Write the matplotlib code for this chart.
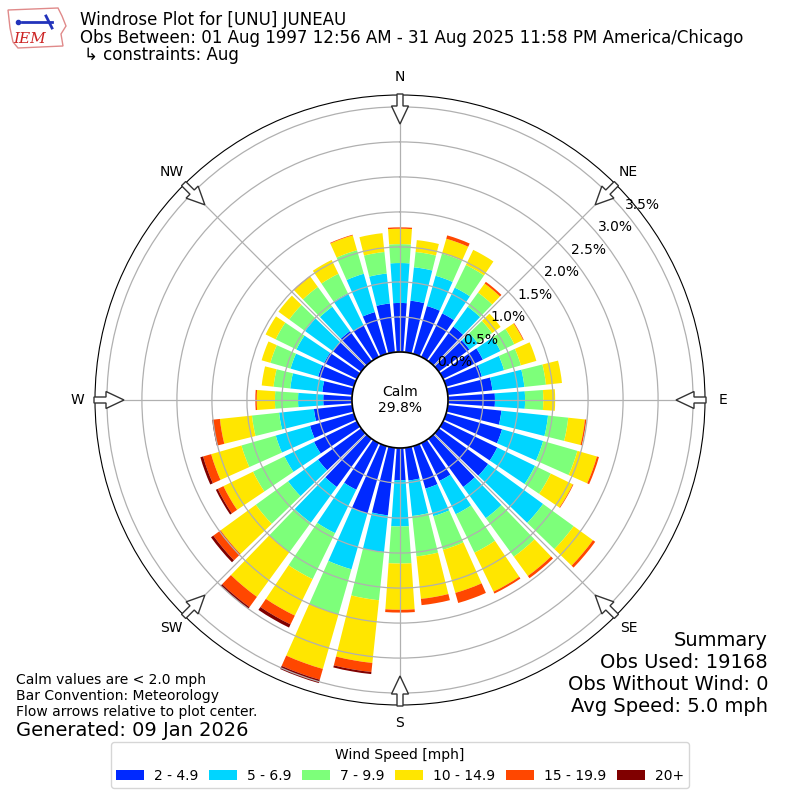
import numpy as np
import matplotlib
matplotlib.use('Agg')
import matplotlib.pyplot as plt
from matplotlib.patches import Patch, Circle, FancyArrow, Polygon

# wind direction bins (deg, meteorological convention)
directions = np.arange(0, 360, 10)
speed_labels = ['2 - 4.9', '5 - 6.9', '7 - 9.9', '10 - 14.9', '15 - 19.9', '20+']

# frequency (%) per direction for each speed bin
spd_2_5 = [0.70, 0.74, 0.71, 0.69, 0.61, 0.54, 0.63, 0.53, 0.64, 0.67, 0.77, 0.83,
           0.86, 0.87, 0.85, 0.60, 0.63, 0.47, 0.46, 0.97, 1.00, 0.74, 0.85, 0.76,
           0.68, 0.65, 0.55, 0.41, 0.43, 0.53, 0.52, 0.50, 0.53, 0.50, 0.62, 0.70]
spd_5_7 = [0.57, 0.48, 0.45, 0.41, 0.35, 0.15, 0.28, 0.33, 0.46, 0.43, 0.67, 0.61,
           0.60, 0.97, 0.55, 0.53, 0.41, 0.51, 0.66, 0.53, 0.83, 0.69, 0.63, 0.53,
           0.47, 0.51, 0.50, 0.36, 0.46, 0.41, 0.44, 0.49, 0.43, 0.51, 0.57, 0.43]
spd_7_10 = [0.27, 0.22, 0.33, 0.36, 0.25, 0.25, 0.22, 0.25, 0.31, 0.26, 0.29, 0.51,
            0.25, 0.54, 0.68, 0.61, 0.50, 0.58, 0.53, 0.69, 0.67, 0.73, 0.52, 0.57,
            0.50, 0.51, 0.39, 0.33, 0.24, 0.30, 0.33, 0.28, 0.35, 0.31, 0.35, 0.31]
spd_10_15 = [0.22, 0.17, 0.22, 0.24, 0.16, 0.15, 0.14, 0.23, 0.23, 0.17, 0.24, 0.29,
             0.35, 0.34, 0.34, 0.62, 0.64, 0.61, 0.66, 0.90, 0.81, 0.58, 0.79, 0.62,
             0.47, 0.45, 0.46, 0.26, 0.17, 0.13, 0.16, 0.19, 0.18, 0.22, 0.22, 0.27]
spd_15_20 = [0.02, 0.00, 0.05, 0.00, 0.03, 0.00, 0.01, 0.00, 0.00, 0.00, 0.02, 0.03,
             0.01, 0.04, 0.04, 0.03, 0.15, 0.09, 0.04, 0.13, 0.16, 0.14, 0.18, 0.13,
             0.09, 0.12, 0.10, 0.02, 0.00, 0.00, 0.00, 0.00, 0.01, 0.00, 0.01, 0.00]
spd_20_up = [0.00, 0.00, 0.00, 0.00, 0.00, 0.00, 0.00, 0.00, 0.00, 0.00, 0.00, 0.00,
             0.00, 0.00, 0.00, 0.00, 0.00, 0.00, 0.00, 0.03, 0.05, 0.05, 0.03, 0.04,
             0.03, 0.04, 0.01, 0.00, 0.00, 0.00, 0.00, 0.00, 0.00, 0.00, 0.00, 0.00]
calm_pct = 29.8

ring_values = [0.0, 0.5, 1.0, 1.5, 2.0, 2.5, 3.0, 3.5]
compass = ['N', 'NE', 'E', 'SE', 'S', 'SW', 'W', 'NW']

speed_bins = [spd_2_5, spd_5_7, spd_7_10, spd_10_15, spd_15_20, spd_20_up]
colors = plt.cm.jet(np.arange(1, 7) / 6.0)

fig = plt.figure(figsize=(8, 8), dpi=100)
ax = fig.add_axes([95 / 800, 95 / 800, 610 / 800, 610 / 800], projection='polar')
ax.set_theta_zero_location('N')
ax.set_theta_direction(-1)

theta = np.deg2rad(directions)
bottom = np.zeros(len(directions))
for vals, color in zip(speed_bins, colors):
    vals = np.array(vals)
    ax.bar(theta, vals, width=np.deg2rad(8), bottom=bottom, color=color,
           edgecolor='none', zorder=1)
    bottom += vals

ax.set_rlim(0, 3.67)
ax.set_rorigin(-0.686)
ax.set_rgrids(ring_values, labels=[f'{v:.1f}%' for v in ring_values], angle=50,
              fontsize=10)
ax.set_thetagrids(range(0, 360, 45), compass, fontsize=10)
ax.tick_params(axis='x', pad=2.5)
ax.set_axisbelow(False)
ax.grid(True, color='#b0b0b0', linewidth=0.9)

# overlay in pixel coordinates for calm circle, arrows, logo
ov = fig.add_axes([0, 0, 1, 1], zorder=5)
ov.set_xlim(0, 800)
ov.set_ylim(800, 0)
ov.axis('off')
ov.patch.set_alpha(0)

ov.add_patch(Circle((400, 400), 48, facecolor='white', edgecolor='black', lw=1.2))
ov.text(400, 400, f'Calm\n{calm_pct:.1f}%', ha='center', va='center', fontsize=10)

for ang in range(0, 360, 45):
    a = np.deg2rad(ang)
    x0 = 400 + 306 * np.sin(a)
    y0 = 400 - 306 * np.cos(a)
    x1 = 400 + 276 * np.sin(a)
    y1 = 400 - 276 * np.cos(a)
    ov.add_patch(FancyArrow(x0, y0, x1 - x0, y1 - y0, width=6, head_width=17,
                            head_length=18, length_includes_head=True,
                            facecolor='white', edgecolor='#333333', lw=1))

# rough IEM logo
iowa = [(8, 10), (58, 8), (62, 16), (66, 26), (61, 34), (63, 46), (18, 48),
        (13, 42), (10, 28)]
ov.add_patch(Polygon(iowa, closed=True, facecolor='white', edgecolor='#e08a8a', lw=1))
ov.plot([22, 52], [22, 22], color='#2233bb', lw=2)
ov.plot([46, 52], [16, 28], color='#2233bb', lw=2)
ov.plot([18], [22], marker='o', color='#2233bb', ms=3)
ov.text(30, 39, 'IEM', color='#cc2222', fontsize=11, style='italic',
        family='DejaVu Serif', ha='center', va='center')

# header
fig.text(80 / 800, 1 - 20 / 800, 'Windrose Plot for [UNU] JUNEAU', fontsize=12, va='center')
fig.text(80 / 800, 1 - 38 / 800,
         'Obs Between: 01 Aug 1997 12:56 AM - 31 Aug 2025 11:58 PM America/Chicago',
         fontsize=12, va='center')
fig.text(84 / 800, 1 - 55 / 800, '\u21b3 constraints: Aug', fontsize=12, va='center')

# footer notes
fig.text(16 / 800, 1 - 680 / 800, 'Calm values are < 2.0 mph', fontsize=10, va='center')
fig.text(16 / 800, 1 - 696 / 800, 'Bar Convention: Meteorology', fontsize=10, va='center')
fig.text(16 / 800, 1 - 712 / 800, 'Flow arrows relative to plot center.', fontsize=10,
         va='center')
fig.text(16 / 800, 1 - 730 / 800, 'Generated: 09 Jan 2026', fontsize=14, va='center')

summary = ['Summary', 'Obs Used: 19168', 'Obs Without Wind: 0', 'Avg Speed: 5.0 mph']
for i, line in enumerate(summary):
    fig.text(768 / 800, 1 - (640 + 22 * i) / 800, line, fontsize=14, ha='right',
             va='center')

handles = [Patch(facecolor=c) for c in colors]
fig.legend(handles, speed_labels, title='Wind Speed [mph]', ncol=6,
           loc='lower center', bbox_to_anchor=(0.5, 0.006), fontsize=10,
           title_fontsize=10, columnspacing=0.8, handletextpad=0.7)

fig.savefig('out.png', dpi=100)
